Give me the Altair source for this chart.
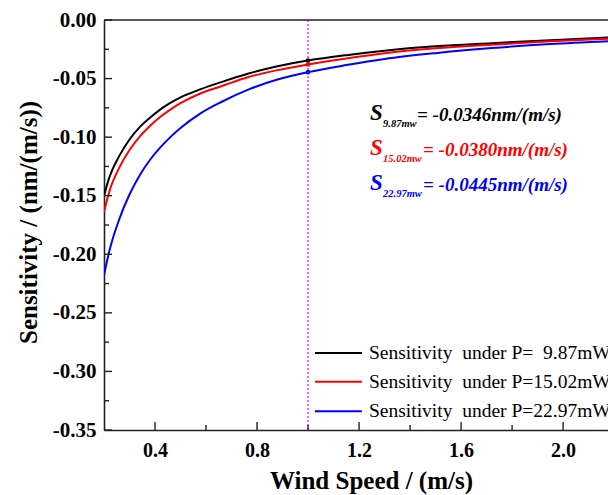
import altair as alt
import pandas as pd

# ---------------- data ----------------
speed = [0.20, 0.22, 0.26, 0.30, 0.34, 0.38, 0.42, 0.46, 0.50, 0.58, 0.66,
         0.77, 0.88, 1.00, 1.15, 1.30, 1.50, 1.72, 1.95, 2.18]
sens_987 = [-0.150, -0.135, -0.116, -0.102, -0.0915, -0.0835, -0.0765, -0.0708,
            -0.0660, -0.0590, -0.0530, -0.0455, -0.0395, -0.0346, -0.0300,
            -0.0262, -0.0225, -0.0198, -0.0172, -0.0150]
sens_1502 = [-0.164, -0.147, -0.126, -0.111, -0.0995, -0.0905, -0.0828, -0.0765,
             -0.0710, -0.0625, -0.0565, -0.0485, -0.0428, -0.0380, -0.0328,
             -0.0283, -0.0242, -0.0211, -0.0182, -0.0160]
sens_2297 = [-0.218, -0.198, -0.170, -0.149, -0.1325, -0.1195, -0.109, -0.1000,
             -0.0922, -0.0795, -0.0700, -0.0590, -0.0508, -0.0445, -0.0385,
             -0.0333, -0.0283, -0.0240, -0.0205, -0.0180]

series_names = ["Sensitivity\u00a0 under P=\u00a0 9.87mW",
                "Sensitivity\u00a0 under P=15.02mW",
                "Sensitivity\u00a0 under P=22.97mW"]
series_colors = ["#000000", "#FF0000", "#0000FF"]

sub_labels = ["9.87mw", "15.02mw", "22.97mw"]
eq_labels = ["= -0.0346nm/(m/s)", "= -0.0380nm/(m/s)", "= -0.0445nm/(m/s)"]
anno_x = 1.243
anno_y = [-0.0811, -0.1110, -0.1409]

legend_y = [-0.2843, -0.3088, -0.3339]
legend_x0, legend_x1, legend_tx = 1.027, 1.211, 1.239

marker_speed = 1.0

x_major = [0.4, 0.8, 1.2, 1.6, 2.0]
x_minor = [0.6, 1.0, 1.4, 1.8]
y_major = [-0.35, -0.30, -0.25, -0.20, -0.15, -0.10, -0.05, 0.0]
y_minor = [-0.325, -0.275, -0.225, -0.175, -0.125, -0.075, -0.025]

# ---------------- tables ----------------
rows = []
for name, vals in zip(series_names, [sens_987, sens_1502, sens_2297]):
    for x, y in zip(speed, vals):
        rows.append({"speed": x, "sens": y, "series": name})
df = pd.DataFrame(rows)

anno_df = pd.DataFrame({"series": series_names, "x": [anno_x] * 3, "y": anno_y,
                        "sub": sub_labels, "eq": eq_labels})
leg_df = pd.DataFrame({"series": series_names, "y": legend_y,
                       "x0": [legend_x0] * 3, "x1": [legend_x1] * 3,
                       "tx": [legend_tx] * 3})

FONT = "Liberation Serif"
AX = "#222222"

x_scale = alt.Scale(domain=[0.2, 2.176], nice=False, zero=False)
y_scale = alt.Scale(domain=[-0.35, 0.0], nice=False, zero=False)
color_scale = alt.Scale(domain=series_names, range=series_colors)

x_axis = alt.Axis(values=x_major, format=".1f", ticks=False, grid=False,
                  domainColor=AX, domainWidth=1.6, labelFont=FONT,
                  labelFontSize=20, labelFontWeight="bold", labelColor="black",
                  labelPadding=10, labelOverlap=False, labelFlush=False,
                  title="Wind Speed / (m/s)", titleFont=FONT, titleFontSize=25,
                  titleFontWeight="bold", titleColor="black", titleX=267,
                  titleY=58, titleAlign="center", titleBaseline="alphabetic")
y_axis = alt.Axis(values=y_major, ticks=False, grid=False,
                  labelExpr="datum.value == 0 ? '0.00' : '-' + format(-datum.value, '.2f')",
                  domainColor=AX, domainWidth=1.6, labelFont=FONT,
                  labelFontSize=21, labelFontWeight="bold", labelColor="black",
                  labelPadding=8, labelOverlap=False, labelFlush=False,
                  title="Sensitivity / (nm/(m/s))", titleFont=FONT,
                  titleFontSize=25, titleFontWeight="bold", titleColor="black",
                  titleX=-76, titleY=202, titleAngle=270, titleAlign="center",
                  titleBaseline="middle")

base = alt.Chart(df)

lines = base.mark_line(strokeWidth=2, clip=True, interpolate="monotone").encode(
    x=alt.X("speed:Q", scale=x_scale, axis=x_axis),
    y=alt.Y("sens:Q", scale=y_scale, axis=y_axis),
    color=alt.Color("series:N", scale=color_scale, legend=None),
)

markers = base.mark_point(filled=True, size=22, opacity=1).encode(
    x=alt.X("speed:Q", scale=x_scale),
    y=alt.Y("sens:Q", scale=y_scale),
    color=alt.Color("series:N", scale=color_scale, legend=None),
).transform_filter(alt.datum.speed == marker_speed)

vline = alt.Chart(pd.DataFrame({"v": [marker_speed]})).mark_rule(
    color="#FF00FF", strokeDash=[2, 2], strokeWidth=1.3
).encode(x=alt.X("v:Q", scale=x_scale))

top_border = alt.Chart(pd.DataFrame({"v": [0.0]})).mark_rule(
    color=AX, strokeWidth=1.6
).encode(y=alt.Y("v:Q", scale=y_scale))

ytick_major = alt.Chart(pd.DataFrame({"v": y_major})).mark_rule(
    color=AX, strokeWidth=1.4
).encode(y=alt.Y("v:Q", scale=y_scale), x=alt.value(0), x2=alt.value(8))
ytick_minor = alt.Chart(pd.DataFrame({"v": y_minor})).mark_rule(
    color=AX, strokeWidth=1.4
).encode(y=alt.Y("v:Q", scale=y_scale), x=alt.value(0), x2=alt.value(5))
xtick_major = alt.Chart(pd.DataFrame({"v": x_major})).mark_rule(
    color=AX, strokeWidth=1.4
).encode(x=alt.X("v:Q", scale=x_scale), y=alt.value(410), y2=alt.value(402))
xtick_minor = alt.Chart(pd.DataFrame({"v": x_minor})).mark_rule(
    color=AX, strokeWidth=1.4
).encode(x=alt.X("v:Q", scale=x_scale), y=alt.value(410), y2=alt.value(405))

# annotation texts
anno_layers = []
eq_dx = [47, 53, 53]
for i, name in enumerate(series_names):
    a = alt.Chart(anno_df).transform_filter(alt.datum.series == name)
    enc = dict(x=alt.X("x:Q", scale=x_scale), y=alt.Y("y:Q", scale=y_scale),
               color=alt.Color("series:N", scale=color_scale, legend=None))
    s_txt = a.mark_text(font=FONT, fontSize=23, fontWeight="bold",
                        fontStyle="italic", align="left", baseline="middle",
                        dy=-2).encode(text=alt.value("S"), **enc)
    sub_txt = a.mark_text(font=FONT, fontSize=10.5, fontWeight="bold",
                          fontStyle="italic", align="left", baseline="middle",
                          dx=13, dy=9).encode(text="sub:N", **enc)
    eq_txt = a.mark_text(font=FONT, fontSize=19, fontWeight="bold",
                         fontStyle="italic", align="left", baseline="middle",
                         dx=eq_dx[i]).encode(text="eq:N", **enc)
    anno_layers += [s_txt, sub_txt, eq_txt]

# legend drawn as marks
leg = alt.Chart(leg_df)
leg_lines = leg.mark_rule(strokeWidth=2).encode(
    x=alt.X("x0:Q", scale=x_scale), x2="x1:Q",
    y=alt.Y("y:Q", scale=y_scale),
    color=alt.Color("series:N", scale=color_scale, legend=None))
leg_text = leg.mark_text(font=FONT, fontSize=19.5, align="left",
                         baseline="middle", color="black").encode(
    x=alt.X("tx:Q", scale=x_scale), y=alt.Y("y:Q", scale=y_scale),
    text="series:N")

chart = alt.layer(
    vline, lines, markers, top_border,
    ytick_major, ytick_minor, xtick_major, xtick_minor,
    *anno_layers, leg_lines, leg_text,
).properties(
    width=504, height=410,
    padding={"left": 104, "top": 20, "right": 0, "bottom": 65},
    autosize=alt.AutoSizeParams(type="none"),
    background="white",
).configure_view(stroke=None)

chart.save("out.html", embed_options={"renderer": "svg", "actions": False})
